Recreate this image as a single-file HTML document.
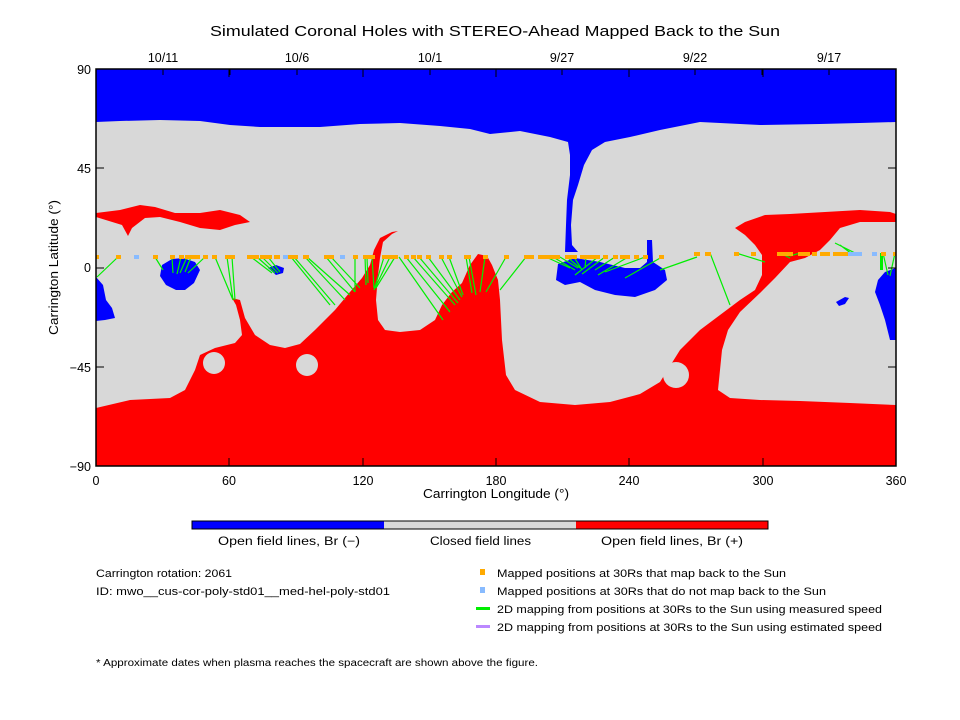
<!DOCTYPE html>
<html><head><meta charset="utf-8"><style>
html,body{margin:0;padding:0;background:#fff;}
svg{display:block;font-family:"Liberation Sans",sans-serif;}
</style></head><body>
<svg width="960" height="720" viewBox="0 0 960 720" xmlns="http://www.w3.org/2000/svg">
<rect width="960" height="720" fill="#fff"/>
<text x="210" y="36" font-size="15" textLength="570" lengthAdjust="spacingAndGlyphs">Simulated Coronal Holes with STEREO-Ahead Mapped Back to the Sun</text>
<g font-size="12.5" text-anchor="middle">
<text x="163" y="62">10/11</text><text x="297" y="62">10/6</text><text x="430" y="62">10/1</text>
<text x="562" y="62">9/27</text><text x="695" y="62">9/22</text><text x="829" y="62">9/17</text>
</g>
<rect x="96" y="69" width="800" height="397" fill="#d8d8d8"/>
<path fill="#0000ff" d="M96,69 H896 V122 L860,123 820,124 760,125 700,122 660,130 630,137 605,142 592,150 584,165 578,185 573,200 571,225 572,245 578,252 565,252 566,225 567,200 570,175 570,155 568,142 550,137 520,131 490,134 470,129 440,126 400,123 360,124 320,127 300,127 260,127 230,125 200,121 160,120 120,121 96,122 Z"/>
<path fill="#0000ff" d="M558,264 L575,258 600,262 625,268 640,268 647,262 647,240 652,240 653,262 665,270 667,280 655,290 635,297 615,295 595,290 580,282 565,285 556,280 Z"/>
<path fill="#0000ff" d="M162,265 L172,259 183,258 195,262 200,270 194,283 185,290 176,290 166,285 160,276 Z"/>
<path fill="#0000ff" d="M268,268 L276,265 284,268 283,273 276,275 Z"/>
<path fill="#0000ff" d="M96,277 L103,285 106,300 112,308 115,318 105,320 96,321 Z"/>
<path fill="#0000ff" d="M896,268 L885,272 878,280 875,292 880,305 885,320 890,340 896,340 Z"/>
<path fill="#0000ff" d="M836,302 L845,297 849,298 845,304 839,306 Z"/>
<path fill="#ff0000" d="M96,213 L120,210 140,205 155,207 175,213 200,213 220,210 240,215 250,222 235,225 220,230 200,228 180,222 160,217 145,218 132,228 128,236 122,225 96,217 Z"/>
<path fill="#ff0000" d="M96,408 L130,400 170,398 185,390 195,370 200,355 215,348 235,343 242,335 240,320 236,305 232,298 240,300 245,318 255,335 270,345 285,348 300,344 315,330 335,310 350,292 362,278 370,265 374,250 380,238 392,232 398,231 392,234 383,242 380,258 378,275 376,300 378,320 385,330 400,332 420,330 435,320 442,305 452,292 462,283 470,265 478,254 487,256 492,265 498,280 500,300 502,340 506,375 515,390 540,402 575,405 610,402 640,394 660,382 680,350 700,330 720,315 740,300 755,290 762,275 762,255 755,245 745,235 735,228 745,222 765,215 790,214 825,212 860,210 890,212 896,214 896,222 860,222 840,228 830,240 820,250 805,258 790,262 775,278 760,293 740,312 728,330 722,350 720,370 718,390 730,398 760,400 800,401 850,403 896,405 L896,466 L96,466 Z"/>
<circle cx="214" cy="363" r="11" fill="#d8d8d8"/>
<circle cx="307" cy="365" r="11" fill="#d8d8d8"/>
<circle cx="676" cy="375" r="13" fill="#d8d8d8"/>
<g stroke="#00ee00" stroke-width="1.2" fill="none">
<path d="M118,257L97,277 M155,257L163,270 M172,257L173,273 M181,257L177,274 M187,257L180,273 M191,257L185,272 M205,257L188,273 M215,257L233,300 M227,257L233,300 M232,257L235,300 M251,257L272,273 M257,257L275,273 M262,257L278,273 M268,257L280,272 M291,257L330,305 M294,257L335,305 M305,257L345,300 M307,257L350,295 M326,257L355,292 M331,257L360,288 M355,257L355,292 M365,257L366,285 M367,257L368,283 M372,257L374,288 M384,257L374,290 M390,257L374,290 M395,257L376,288 M399,257L443,320 M406,257L450,312 M413,257L455,305 M419,257L458,303 M428,257L460,300 M441,257L462,297 M449,257L463,295 M466,257L472,293 M469,257L476,295 M485,257L480,292 M506,257L486,292 M526,257L500,290 M546,257L570,268 M553,257L575,270 M560,257L578,268 M567,257L580,268 M574,257L582,270 M586,257L585,268 M598,257L575,275 M605,257L582,274 M615,257L595,270 M628,257L598,275 M645,257L605,272 M662,257L625,278 M697,257L660,270 M710,253L730,305 M736,253L765,262 M780,253L790,258 M800,253L790,256 M835,243L855,253 M840,245L852,254 M883,253L888,275 M895,253L890,276"/>
</g>
<rect x="880" y="253" width="3" height="17" fill="#00ee00"/>
<g fill="#ffaa00">
<rect x="96" y="255" width="3" height="4"/>
<rect x="116" y="255" width="5" height="4"/><rect x="153" y="255" width="5" height="4"/><rect x="170" y="255" width="5" height="4"/><rect x="179" y="255" width="5" height="4"/><rect x="185" y="255" width="5" height="4"/><rect x="190" y="255" width="5" height="4"/><rect x="195" y="255" width="5" height="4"/><rect x="203" y="255" width="5" height="4"/><rect x="212" y="255" width="5" height="4"/><rect x="225" y="255" width="5" height="4"/><rect x="230" y="255" width="5" height="4"/><rect x="247" y="255" width="12" height="4"/><rect x="260" y="255" width="12" height="4"/><rect x="274" y="255" width="6" height="4"/><rect x="288" y="255" width="5" height="4"/><rect x="293" y="255" width="5" height="4"/><rect x="303" y="255" width="6" height="4"/><rect x="324" y="255" width="6" height="4"/><rect x="329" y="255" width="5" height="4"/><rect x="353" y="255" width="5" height="4"/><rect x="363" y="255" width="10" height="4"/><rect x="370" y="255" width="5" height="4"/><rect x="382" y="255" width="16" height="4"/><rect x="404" y="255" width="5" height="4"/><rect x="411" y="255" width="5" height="4"/><rect x="417" y="255" width="5" height="4"/><rect x="426" y="255" width="5" height="4"/><rect x="439" y="255" width="5" height="4"/><rect x="447" y="255" width="5" height="4"/><rect x="464" y="255" width="7" height="4"/><rect x="483" y="255" width="5" height="4"/><rect x="504" y="255" width="5" height="4"/><rect x="524" y="255" width="10" height="4"/><rect x="538" y="255" width="22" height="4"/><rect x="565" y="255" width="12" height="4"/><rect x="580" y="255" width="20" height="4"/><rect x="603" y="255" width="5" height="4"/><rect x="613" y="255" width="5" height="4"/><rect x="620" y="255" width="10" height="4"/><rect x="634" y="255" width="5" height="4"/><rect x="643" y="255" width="5" height="4"/><rect x="659" y="255" width="5" height="4"/><rect x="694" y="252" width="6" height="4"/><rect x="705" y="252" width="6" height="4"/><rect x="734" y="252" width="5" height="4"/><rect x="751" y="252" width="5" height="4"/><rect x="777" y="252" width="16" height="4"/><rect x="798" y="252" width="12" height="4"/><rect x="812" y="252" width="5" height="4"/><rect x="820" y="252" width="10" height="4"/><rect x="833" y="252" width="15" height="4"/><rect x="881" y="252" width="5" height="4"/><rect x="893" y="252" width="3" height="4"/>
</g>
<g fill="#88bbff">
<rect x="134" y="255" width="5" height="4"/><rect x="283" y="255" width="5" height="4"/><rect x="340" y="255" width="5" height="4"/><rect x="848" y="252" width="14" height="4"/><rect x="872" y="252" width="5" height="4"/>
</g>
<rect x="96" y="69" width="800" height="397" fill="none" stroke="#000" stroke-width="1.5"/>
<g stroke="#000" stroke-width="1">
<path d="M96,168h8M96,268h8M96,367h8M896,168h-8M896,268h-8M896,367h-8"/>
<path d="M229,466v-8M363,466v-8M496,466v-8M629,466v-8M763,466v-8M229,69v8M363,69v8M496,69v8M629,69v8M763,69v8"/>
<path d="M163,69v6M230,69v6M297,69v6M363,69v6M430,69v6M496,69v6M562,69v6M629,69v6M695,69v6M762,69v6M829,69v6"/>
</g>
<g font-size="12.5" text-anchor="end">
<text x="91" y="74">90</text><text x="91" y="173">45</text><text x="91" y="272">0</text><text x="91" y="372">−45</text><text x="91" y="471">−90</text>
</g>
<g font-size="12.5" text-anchor="middle">
<text x="96" y="485">0</text><text x="229" y="485">60</text><text x="363" y="485">120</text><text x="496" y="485">180</text><text x="629" y="485">240</text><text x="763" y="485">300</text><text x="896" y="485">360</text>
</g>
<text x="423" y="498" font-size="12.5" textLength="146" lengthAdjust="spacingAndGlyphs">Carrington Longitude (°)</text>
<text transform="translate(58,335) rotate(-90)" font-size="12.5" textLength="135" lengthAdjust="spacingAndGlyphs">Carrington Latitude (°)</text>
<rect x="192" y="521" width="192" height="8" fill="#0000ff"/>
<rect x="384" y="521" width="192" height="8" fill="#d8d8d8"/>
<rect x="576" y="521" width="192" height="8" fill="#ff0000"/>
<rect x="192" y="521" width="576" height="8" fill="none" stroke="#000" stroke-width="1"/>
<g font-size="11.5">
<text x="218" y="545" textLength="142" lengthAdjust="spacingAndGlyphs">Open field lines, Br (−)</text>
<text x="430" y="545" textLength="101" lengthAdjust="spacingAndGlyphs">Closed field lines</text>
<text x="601" y="545" textLength="142" lengthAdjust="spacingAndGlyphs">Open field lines, Br (+)</text>
</g>
<g font-size="11" lengthAdjust="spacingAndGlyphs">
<text x="96" y="577" textLength="136" lengthAdjust="spacingAndGlyphs">Carrington rotation: 2061</text>
<text x="96" y="595" textLength="294" lengthAdjust="spacingAndGlyphs">ID: mwo__cus-cor-poly-std01__med-hel-poly-std01</text>
<text x="497" y="577" textLength="289" lengthAdjust="spacingAndGlyphs">Mapped positions at 30Rs that map back to the Sun</text>
<text x="497" y="595" textLength="329" lengthAdjust="spacingAndGlyphs">Mapped positions at 30Rs that do not map back to the Sun</text>
<text x="497" y="613" textLength="385" lengthAdjust="spacingAndGlyphs">2D mapping from positions at 30Rs to the Sun using measured speed</text>
<text x="497" y="631" textLength="385" lengthAdjust="spacingAndGlyphs">2D mapping from positions at 30Rs to the Sun using estimated speed</text>
<text x="96" y="666" font-size="10" textLength="442" lengthAdjust="spacingAndGlyphs">* Approximate dates when plasma reaches the spacecraft are shown above the figure.</text>
</g>
<rect x="480" y="569" width="5" height="6" fill="#ffaa00"/>
<rect x="480" y="587" width="5" height="6" fill="#88bbff"/>
<rect x="476" y="607" width="14" height="3" fill="#00ee00"/>
<rect x="476" y="625" width="14" height="3" fill="#bb88ff"/>
</svg>
</body></html>
